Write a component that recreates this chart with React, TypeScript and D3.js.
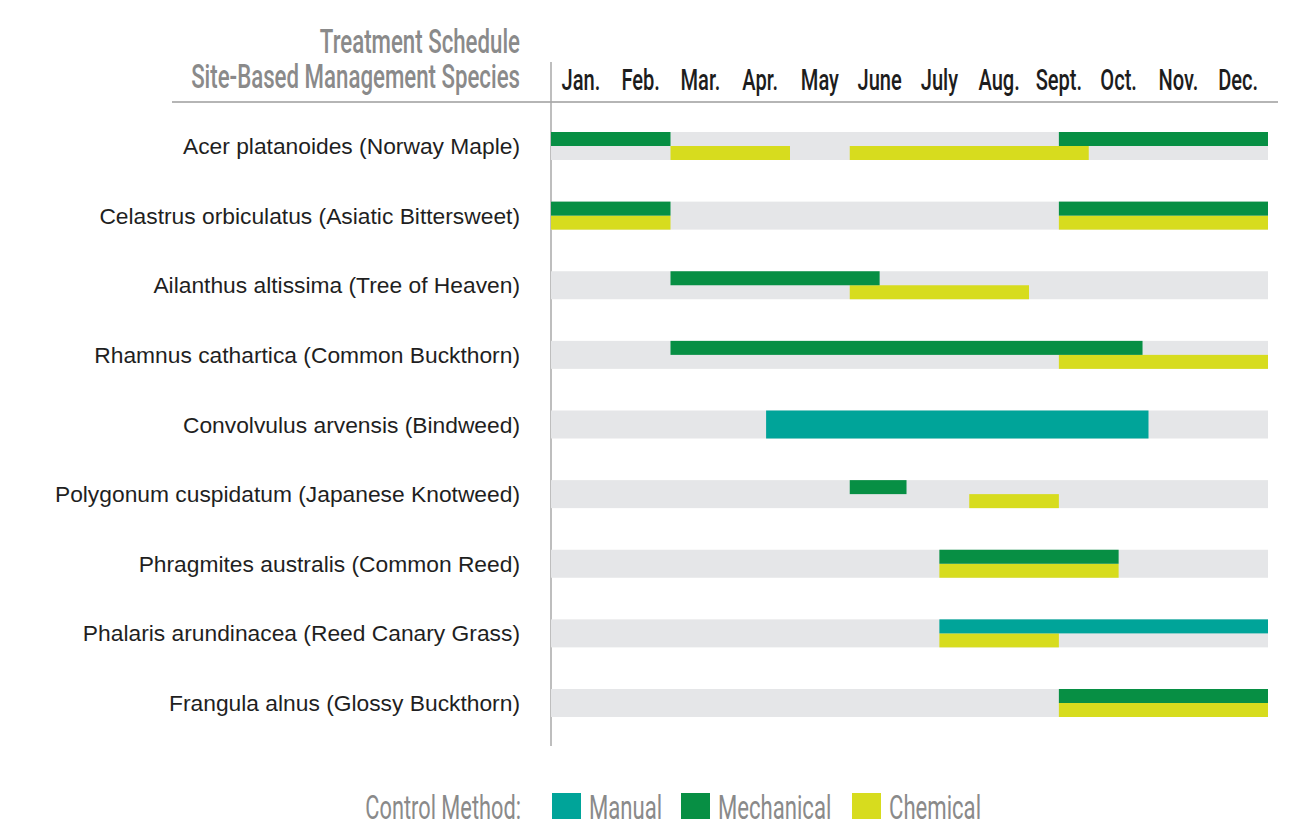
import React from "react";
import * as d3 from "d3";

// Species listed top to bottom
const species = [
  "Acer platanoides (Norway Maple)",
  "Celastrus orbiculatus (Asiatic Bittersweet)",
  "Ailanthus altissima (Tree of Heaven)",
  "Rhamnus cathartica (Common Buckthorn)",
  "Convolvulus arvensis (Bindweed)",
  "Polygonum cuspidatum (Japanese Knotweed)",
  "Phragmites australis (Common Reed)",
  "Phalaris arundinacea (Reed Canary Grass)",
  "Frangula alnus (Glossy Buckthorn)",
];

const months = ["Jan.", "Feb.", "Mar.", "Apr.", "May", "June", "July", "Aug.", "Sept.", "Oct.", "Nov.", "Dec."];

// Treatment windows in months from Jan 1 (0) to Dec 31 (12)
const manualPeriods = [
  { species: 4, start: 3.6, end: 10.0 },
  { species: 7, start: 6.5, end: 12 },
];

const mechanicalPeriods = [
  { species: 0, start: 0, end: 2 },
  { species: 0, start: 8.5, end: 12 },
  { species: 1, start: 0, end: 2 },
  { species: 1, start: 8.5, end: 12 },
  { species: 2, start: 2, end: 5.5 },
  { species: 3, start: 2, end: 9.9 },
  { species: 5, start: 5, end: 5.95 },
  { species: 6, start: 6.5, end: 9.5 },
  { species: 8, start: 8.5, end: 12 },
];

const chemicalPeriods = [
  { species: 0, start: 2, end: 4 },
  { species: 0, start: 5, end: 9 },
  { species: 1, start: 0, end: 2 },
  { species: 1, start: 8.5, end: 12 },
  { species: 2, start: 5, end: 8 },
  { species: 3, start: 8.5, end: 12 },
  { species: 5, start: 7, end: 8.5 },
  { species: 6, start: 6.5, end: 9.5 },
  { species: 7, start: 6.5, end: 8.5 },
  { species: 8, start: 8.5, end: 12 },
];

const legendItems = ["Manual", "Mechanical", "Chemical"];

const COLORS: Record<string, string> = {
  Manual: "#00a499",
  Mechanical: "#078f44",
  Chemical: "#d7dc1e",
};
const BAND = "#e5e6e8";
const GREY_TEXT = "#8a8a8a";
const CONDENSED = "Roboto, 'DejaVu Sans', sans-serif";
const SQUEEZE = 0.67;

export default function App() {
  const width = 1299;
  const height = 839;
  const x = d3.scaleLinear().domain([0, 12]).range([551, 1268]);
  const y = d3
    .scalePoint<number>()
    .domain(d3.range(species.length))
    .range([146, 703]);
  const bandH = 28;

  // species treated by more than one method get split lanes
  const methodCount = (i: number) =>
    [manualPeriods, mechanicalPeriods, chemicalPeriods].filter((arr) =>
      arr.some((p) => p.species === i)
    ).length;

  const topLane = (p: { species: number; start: number; end: number }, method: string, key: string) => {
    const cy = y(p.species)!;
    const split = methodCount(p.species) > 1;
    return (
      <rect
        key={key}
        x={x(p.start)}
        y={cy - bandH / 2}
        width={x(p.end) - x(p.start)}
        height={split ? bandH / 2 : bandH}
        fill={COLORS[method]}
      />
    );
  };

  const condensedText = (
    txt: string,
    tx: number,
    ty: number,
    size: number,
    fill: string,
    anchor: "start" | "middle" | "end",
    weight = 400,
    key?: string
  ) => (
    <g key={key ?? txt} transform={`translate(${tx},${ty}) scale(${SQUEEZE},1)`}>
      <text
        x={0}
        y={0}
        textAnchor={anchor}
        fontFamily={CONDENSED}
        fontSize={size}
        fontWeight={weight}
        fill={fill}
      >
        {txt}
      </text>
    </g>
  );

  // legend layout
  const legendBoxW = 29;
  const legendBoxH = 26;
  const legendY = 793;
  const legendX = [552, 681, 852];

  return (
    <svg
      width={width}
      height={height}
      style={{ position: "absolute", left: 0, top: 0, background: "#fff" }}
    >
      {/* header */}
      {condensedText("Treatment Schedule", 520, 53, 33.2, GREY_TEXT, "end", 500)}
      {condensedText("Site-Based Management Species", 520, 88, 33.2, GREY_TEXT, "end", 500)}
      <line x1={172} x2={1278} y1={102} y2={102} stroke="#b5b5b5" strokeWidth={2} />
      <line x1={551} x2={551} y1={62} y2={746} stroke="#a8a8a8" strokeWidth={1.5} />

      {/* month labels */}
      {months.map((m, i) =>
        condensedText(m, (x(i) + x(i + 1)) / 2, 90, 30, "#1d1d1d", "middle", 500, "m" + i)
      )}

      {/* species rows */}
      {species.map((s, i) => (
        <g key={s}>
          <text
            x={520}
            y={y(i)! + 8}
            textAnchor="end"
            fontFamily="'Liberation Sans', Arial, sans-serif"
            fontSize={22.8}
            fill="#1f1f1f"
          >
            {s}
          </text>
          <rect
            x={x(0)}
            y={y(i)! - bandH / 2}
            width={x(12) - x(0)}
            height={bandH}
            fill={BAND}
          />
        </g>
      ))}

      {/* chemical: lower lane */}
      {chemicalPeriods.map((p, k) => (
        <rect
          key={"c" + k}
          x={x(p.start)}
          y={y(p.species)!}
          width={x(p.end) - x(p.start)}
          height={bandH / 2}
          fill={COLORS.Chemical}
        />
      ))}

      {/* mechanical and manual: upper lane */}
      {mechanicalPeriods.map((p, k) => topLane(p, "Mechanical", "mech" + k))}
      {manualPeriods.map((p, k) => topLane(p, "Manual", "man" + k))}

      {/* legend */}
      {condensedText("Control Method:", 521, legendY + legendBoxH, 32.5, GREY_TEXT, "end")}
      {legendItems.map((name, i) => (
        <g key={name}>
          <rect
            x={legendX[i]}
            y={legendY}
            width={legendBoxW}
            height={legendBoxH}
            fill={COLORS[name]}
          />
          {condensedText(name, legendX[i] + legendBoxW + 8, legendY + legendBoxH, 33, GREY_TEXT, "start", 400, "l" + name)}
        </g>
      ))}
    </svg>
  );
}
